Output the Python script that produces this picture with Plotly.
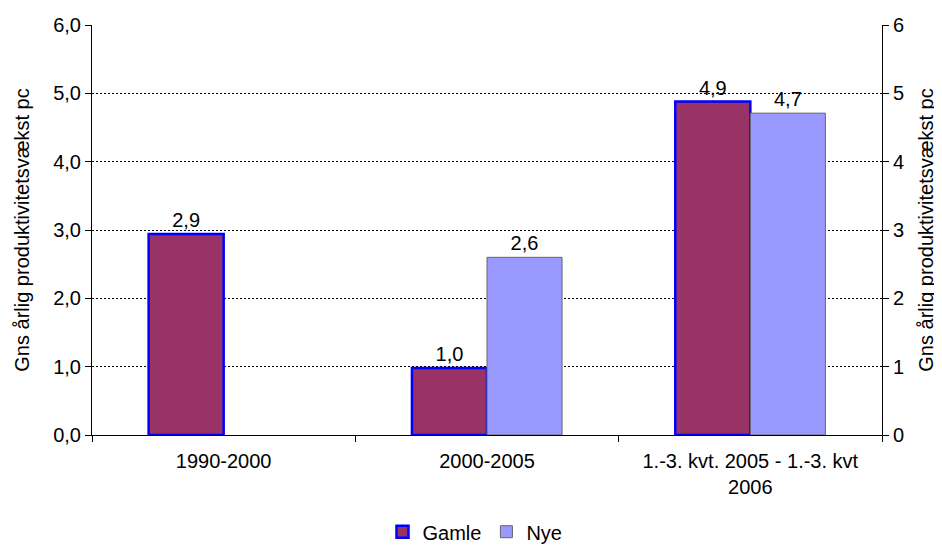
import plotly.graph_objects as go

categories = ["1990-2000", "2000-2005", "1.-3. kvt. 2005 - 1.-3. kvt<br>2006"]
gamle = [2.94, 0.98, 4.88]
nye = [None, 2.6, 4.71]
y_ticks = [0, 1, 2, 3, 4, 5, 6]
y_title = "Gns årlig produktivitetsvækst pc"

font = dict(family="Liberation Sans, Arial, sans-serif", size=20, color="black")

fig = go.Figure()
fig.add_trace(go.Bar(
    name="Gamle", x=categories, y=gamle,
    marker=dict(color="#993366", line=dict(color="#0000FF", width=2.5)),
    texttemplate="%{y:.1f}", textposition="outside",
    textfont=font, cliponaxis=False,
))
fig.add_trace(go.Bar(
    name="Nye", x=categories, y=nye,
    marker=dict(color="#9999FF", line=dict(color="#666666", width=1)),
    texttemplate="%{y:.1f}", textposition="outside",
    textfont=font, cliponaxis=False,
))
# invisible trace to activate the right axis
fig.add_trace(go.Scatter(x=categories, y=[None]*3, yaxis="y2", showlegend=False,
                         hoverinfo="skip", mode="markers"))

# page body has an 8px margin, so the figure is sized 8px smaller in each direction
fig.update_layout(
    width=934, height=541,
    margin=dict(l=84, r=60, t=17, b=114),
    paper_bgcolor="white", plot_bgcolor="white",
    font=font,
    separators=",.",
    barmode="group", bargap=0.43, bargroupgap=0,
    showlegend=True,
    legend=dict(orientation="h", x=0.5, xanchor="center", xref="container",
                y=0.068, yanchor="top", yref="container",
                font=font, itemwidth=30, tracegroupgap=0),
    xaxis=dict(
        showline=True, linecolor="black", linewidth=1,
        ticks="outside", tickson="boundaries", ticklen=6, tickcolor="black",
        ticklabelstandoff=8,
        showgrid=False, tickfont=font, automargin=False,
    ),
    yaxis=dict(
        range=[0, 6], tickvals=y_ticks, tickformat=".1f",
        showline=True, linecolor="black", linewidth=1,
        ticks="outside", ticklen=6, tickcolor="black",
        showgrid=True, gridcolor="black", griddash="2px,2px", gridwidth=1.3,
        zeroline=False, automargin=False,
        title=dict(text=y_title, font=font, standoff=18),
        tickfont=font,
    ),
    yaxis2=dict(
        range=[0, 6], tickvals=y_ticks, tickformat="d",
        overlaying="y", side="right",
        showline=True, linecolor="black", linewidth=1,
        ticks="outside", ticklen=6, tickcolor="black",
        showgrid=False, zeroline=False, automargin=False,
        title=dict(text=y_title, font=font, standoff=15),
        tickfont=font,
    ),
)

fig.write_html("out.html")
